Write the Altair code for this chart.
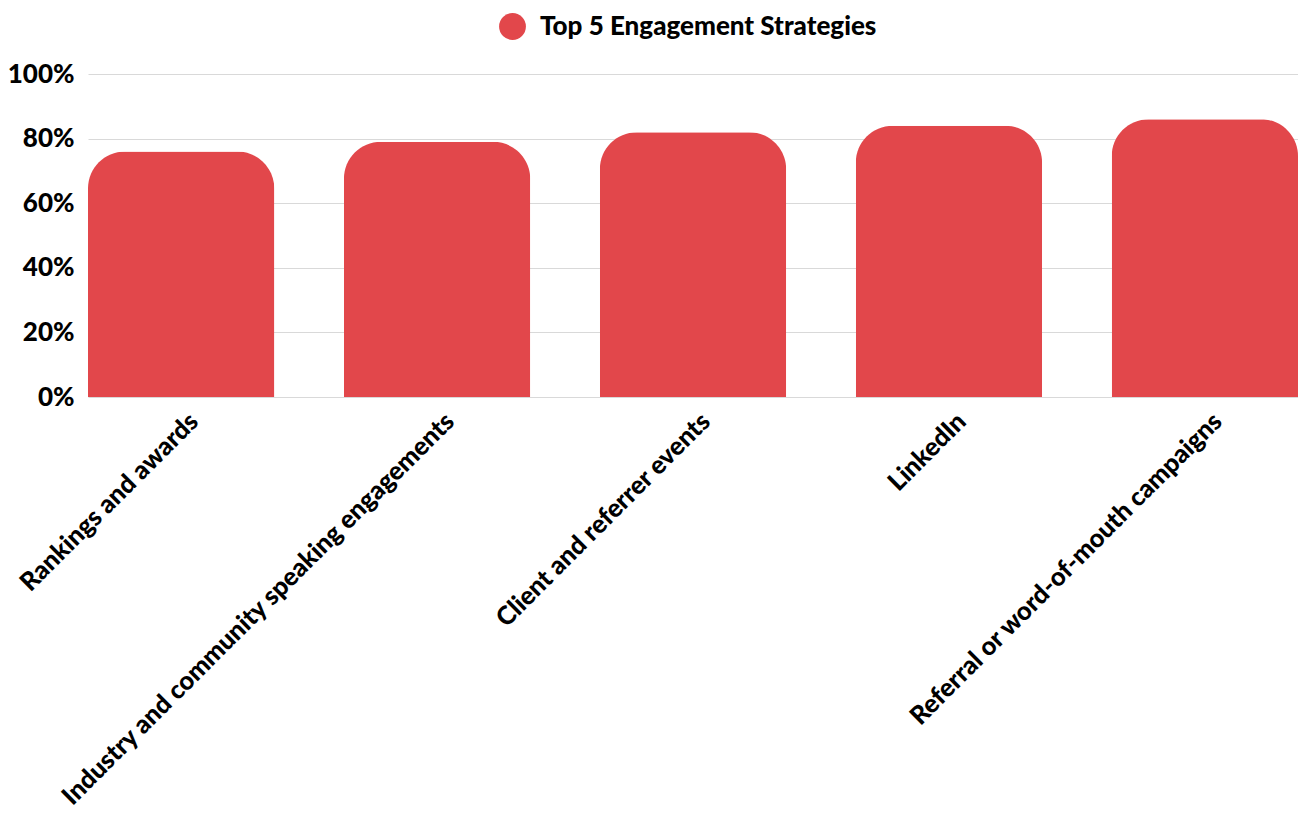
import altair as alt
import pandas as pd

categories = [
    "Rankings and awards",
    "Industry and community speaking engagements",
    "Client and referrer events",
    "LinkedIn",
    "Referral or word-of-mouth campaigns",
]
values = [76, 79, 82, 84, 86]
series_name = "Top 5 Engagement Strategies"
y_ticks = [0, 20, 40, 60, 80, 100]

df = pd.DataFrame({"category": categories, "value": values, "series": [series_name] * len(categories)})

FONT = "Lato"
RED = "#E2474B"
FS = 26
FW = 900

chart = (
    alt.Chart(df)
    .mark_bar(cornerRadiusTopLeft=37, cornerRadiusTopRight=37)
    .encode(
        x=alt.X(
            "category:N",
            sort=categories,
            title=None,
            scale=alt.Scale(paddingInner=0.272, paddingOuter=0),
            axis=alt.Axis(
                labelAngle=-45,
                labelAlign="right",
                labelBaseline="middle",
                labelPadding=20,
                labelOffset=13,
                labelFontSize=25.5,
                labelFontWeight=FW,
                labelFont=FONT,
                labelColor="#000000",
                labelLimit=1000,
                domain=False,
                ticks=False,
                grid=False,
            ),
        ),
        y=alt.Y(
            "value:Q",
            title=None,
            scale=alt.Scale(domain=[0, 100], nice=False),
            axis=alt.Axis(
                values=y_ticks,
                labelExpr="datum.value + '%'",
                labelFontSize=FS,
                labelFontWeight=FW,
                labelFont=FONT,
                labelColor="#000000",
                labelPadding=14,
                domain=False,
                ticks=False,
                grid=True,
                gridColor="#d9d9d9",
                gridWidth=1,
            ),
        ),
        color=alt.Color(
            "series:N",
            scale=alt.Scale(range=[RED]),
            legend=alt.Legend(
                title=None,
                orient="none",
                legendX=411,
                legendY=-61,
                symbolType="circle",
                symbolSize=720,
                symbolStrokeWidth=0,
                symbolOpacity=1,
                labelFontSize=FS,
                labelFontWeight=FW,
                labelFont=FONT,
                labelColor="#000000",
                labelOffset=14,
                labelLimit=1000,
                padding=0,
            ),
        ),
    )
    .properties(
        width=1210,
        height=323,
        autosize=alt.AutoSizeParams(type="none"),
        padding={"left": 80, "top": 66, "right": 0, "bottom": 425},
    )
    .configure_view(stroke=None)
)

chart.save("out.html", embed_options={"renderer": "svg", "actions": False})
